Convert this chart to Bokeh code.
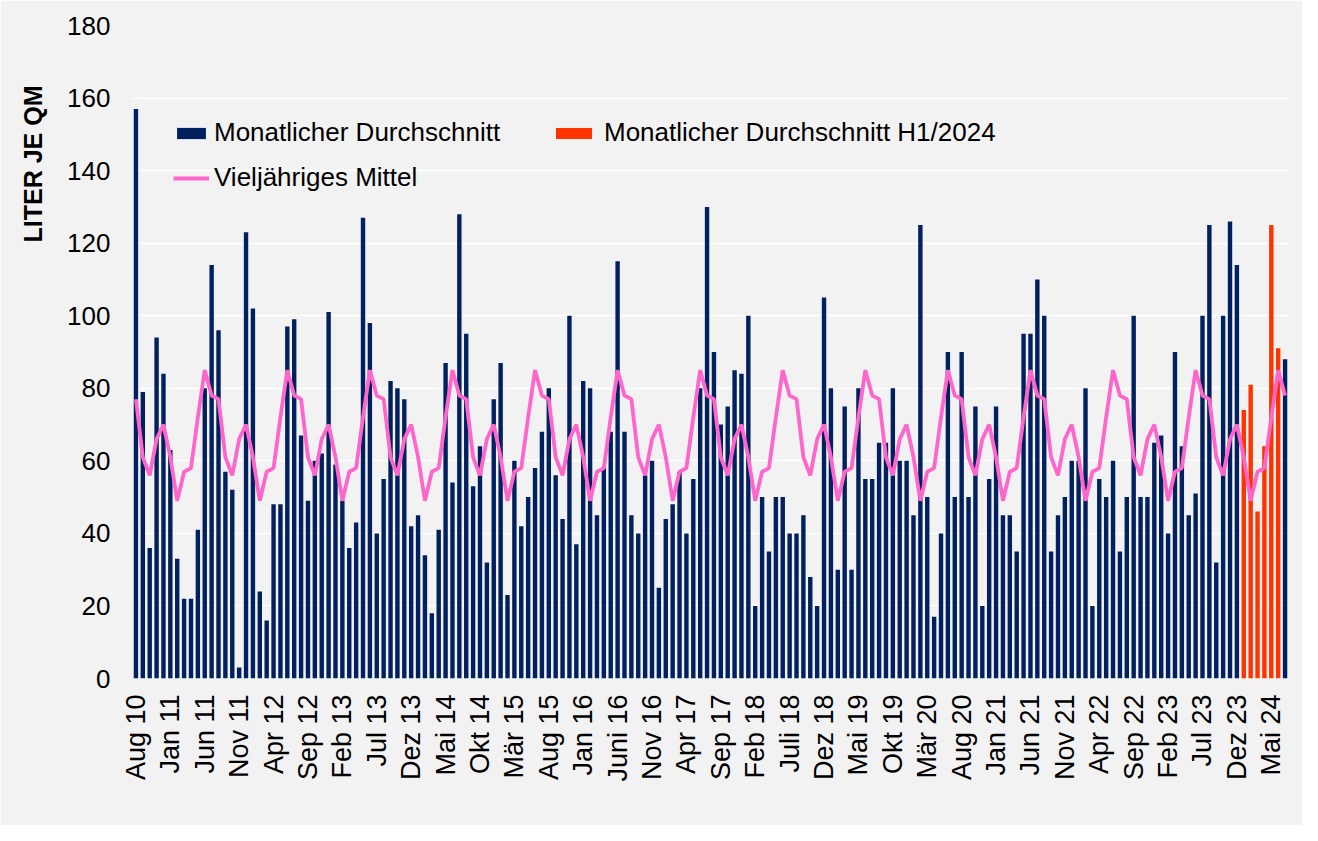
from math import pi
from bokeh.plotting import figure
from bokeh.models import ColumnDataSource, Range1d, FixedTicker, Legend, LegendItem, Title
from bokeh.embed import file_html
from bokeh.resources import INLINE

# Monthly values, Aug 2010 .. Dez 2023 (liter per square metre)
werte_bis_dez23 = [
    157, 79, 36, 94, 84, 63, 33, 22, 22, 41, 80, 114, 96, 57, 52, 3, 123, 102, 24, 16, 48,
    48, 97, 99, 67, 49, 60, 62, 101, 59, 49, 36, 43, 127, 98, 40, 55, 82, 80, 77, 42, 45,
    34, 18, 41, 87, 54, 128, 95, 53, 64, 32, 77, 87, 23, 60, 42, 50, 58, 68, 80, 56,
    44, 100, 37, 82, 80, 45, 58, 68, 115, 68, 45, 40, 56, 60, 25, 44, 48, 57, 40, 55,
    80, 130, 90, 70, 75, 85, 84, 100, 20, 50, 35, 50, 50, 40, 40, 45, 28, 20, 105, 80, 30, 75,
    30, 80, 55, 55, 65, 65, 80, 60, 60, 45, 125, 50, 17, 40, 90, 50, 90, 50, 75, 20, 55,
    75, 45, 45, 35, 95, 95, 110, 100, 35, 45, 50, 60, 60, 80, 20, 55, 50, 60, 35, 50, 100,
    50, 50, 65, 67, 40, 90, 64, 45, 51, 100, 125, 32, 100, 126, 114,
]
# Jan .. Jun 2024
werte_h1_2024 = [74, 81, 46, 64, 125, 91]
# Jul 2024
werte_jul24 = [88]
# Long-term mean by calendar month, Jan .. Dez
mittel_nach_monat = [61, 49, 57, 58, 72, 85, 78, 77, 61, 56, 66, 70]

tick_labels = ["Aug 10", "Jan 11", "Jun 11", "Nov 11", "Apr 12", "Sep 12", "Feb 13", "Jul 13",
               "Dez 13", "Mai 14", "Okt 14", "Mär 15", "Aug 15", "Jan 16", "Juni 16", "Nov 16",
               "Apr 17", "Sep 17", "Feb 18", "Juli 18", "Dez 18", "Mai 19", "Okt 19", "Mär 20",
               "Aug 20", "Jan 21", "Jun 21", "Nov 21", "Apr 22", "Sep 22", "Feb 23", "Jul 23",
               "Dez 23", "Mai 24"]

n_bis = len(werte_bis_dez23)
n_all = n_bis + len(werte_h1_2024) + len(werte_jul24)

navy_src = ColumnDataSource(dict(
    x=list(range(n_bis)) + [n_all - 1],
    top=werte_bis_dez23 + werte_jul24))
red_src = ColumnDataSource(dict(
    x=list(range(n_bis, n_bis + len(werte_h1_2024))),
    top=werte_h1_2024))
line_src = ColumnDataSource(dict(
    x=list(range(n_all)),
    y=[mittel_nach_monat[(7 + i) % 12] for i in range(n_all)]))

FONT = "Liberation Sans"
BG = "#f2f2f2"

p = figure(width=1302, height=825, output_backend="svg", toolbar_location=None,
           x_range=Range1d(-0.5, n_all - 0.5), y_range=Range1d(0, 180),
           min_border_left=132, min_border_right=14, min_border_top=25, min_border_bottom=147)
p.background_fill_color = BG
p.border_fill_color = BG
p.outline_line_color = None

navy_r = p.vbar(x="x", top="top", width=0.64, source=navy_src, fill_color="#002060", line_color=None)
red_r = p.vbar(x="x", top="top", width=0.64, source=red_src, fill_color="#ff3300", line_color=None)
line_r = p.line(x="x", y="y", source=line_src, line_color="#ff66cc", line_width=3.8)

p.xgrid.grid_line_color = None
p.ygrid.grid_line_color = "white"
p.ygrid.grid_line_width = 1.5

p.yaxis.ticker = FixedTicker(ticks=list(range(0, 181, 20)))
p.xaxis.ticker = FixedTicker(ticks=list(range(0, n_all, 5)))
p.xaxis.major_label_overrides = {i * 5: lab for i, lab in enumerate(tick_labels)}
p.xaxis.major_label_orientation = pi / 2

for ax in (p.xaxis, p.yaxis):
    ax.axis_line_color = None
    ax.major_tick_line_color = None
    ax.minor_tick_line_color = None
    ax.major_label_text_font = FONT
    ax.major_label_text_color = "black"
p.yaxis.major_label_text_font_size = "26px"
p.xaxis.major_label_text_font_size = "27px"
p.yaxis.major_label_standoff = 16
p.xaxis.major_label_standoff = 10
# blank spacer label so the title sits further out to the left
p.yaxis.axis_label = " "
p.yaxis.axis_label_text_font_size = "10px"
p.yaxis.axis_label_standoff = 4

ytitle = Title(text="LITER JE QM", align="right", offset=60, standoff=0,
               text_font=FONT, text_font_size="25px", text_font_style="bold",
               text_color="black")
p.add_layout(ytitle, "left")

def mk_legend(items, vx, vy, gw, standoff):
    lg = Legend(items=items, location=(vx, vy), orientation="vertical")
    lg.label_text_font = FONT
    lg.label_text_font_size = "26px"
    lg.label_text_color = "black"
    lg.background_fill_alpha = 0
    lg.border_line_alpha = 0
    lg.padding = 0
    lg.margin = 0
    lg.spacing = 14
    lg.glyph_width = gw
    lg.glyph_height = 14
    lg.label_height = 30
    lg.label_standoff = standoff
    return lg

p.add_layout(mk_legend([LegendItem(label="Monatlicher Durchschnitt", renderers=[navy_r]),
                        LegendItem(label="Vieljähriges Mittel", renderers=[line_r])], 41, 485, 36, 5))
p.add_layout(mk_legend([LegendItem(label="Monatlicher Durchschnitt H1/2024", renderers=[red_r])], 419, 530, 45, 8))

open("out.html", "w").write(file_html(p, INLINE))
